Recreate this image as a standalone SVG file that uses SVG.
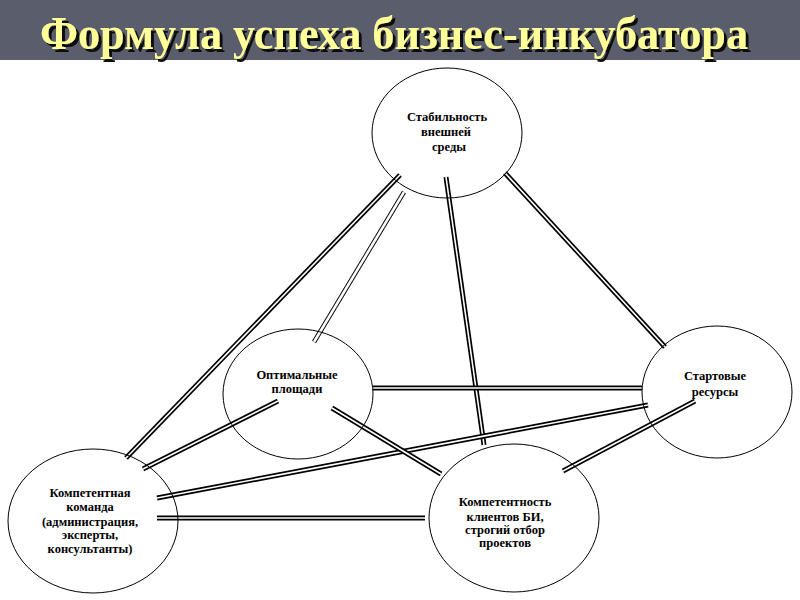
<svg xmlns="http://www.w3.org/2000/svg" xmlns:xlink="http://www.w3.org/1999/xlink" width="800" height="600" viewBox="0 0 800 600">
<style>
.bar{fill:#5a5d6b}
.title{font-family:"Liberation Serif","Times New Roman",serif;font-weight:bold;font-size:47px;fill:#ffff99}
.node ellipse{fill:none;stroke:#000;stroke-width:1}
.node text{font-family:"Liberation Serif","Times New Roman",serif;font-weight:bold;font-size:12.5px;fill:#000;text-anchor:middle}
.o{fill:none;stroke:#000;stroke-width:5}
.i{fill:none;stroke:#fff;stroke-width:1.6}
.o2{fill:none;stroke:#000;stroke-width:4.5}
.i2{fill:none;stroke:#fff;stroke-width:2.6}
</style>
<defs>
<filter id="shadow" x="-5%" y="-20%" width="110%" height="150%">
<feDropShadow dx="3" dy="3" stdDeviation="0.6" flood-color="#111" flood-opacity="1"/>
</filter>
<path id="ca" d="M400,175 L126,458"/>
<path id="cb" d="M404,192 L314,342"/>
<path id="cc" d="M446,177 L484,445"/>
<path id="cd" d="M505,173 L665,347"/>
<path id="ce" d="M373,388 L642,388"/>
<path id="cf" d="M157,498 L648,405"/>
<path id="cg" d="M278,401 L143,469"/>
<path id="ch" d="M332,408 L441,474"/>
<path id="ci" d="M157,518 L425,518"/>
<path id="cj" d="M563,471 L695,401"/>
</defs>
<rect class="bar" x="0" y="0" width="800" height="60"/>
<text class="title" x="40" y="49" textLength="708" lengthAdjust="spacingAndGlyphs" filter="url(#shadow)">Формула успеха бизнес-инкубатора</text>
<g id="connectors">
<use xlink:href="#ca" class="o"/><use xlink:href="#ca" class="i"/>
<use xlink:href="#cb" class="o2"/><use xlink:href="#cb" class="i2"/>
<use xlink:href="#cc" class="o"/><use xlink:href="#cc" class="i"/>
<use xlink:href="#cd" class="o"/><use xlink:href="#cd" class="i"/>
<use xlink:href="#ce" class="o"/><use xlink:href="#ce" class="i"/>
<use xlink:href="#cf" class="o"/><use xlink:href="#cf" class="i"/>
<use xlink:href="#cg" class="o"/><use xlink:href="#cg" class="i"/>
<use xlink:href="#ch" class="o"/><use xlink:href="#ch" class="i"/>
<use xlink:href="#ci" class="o"/><use xlink:href="#ci" class="i"/>
<use xlink:href="#cj" class="o"/><use xlink:href="#cj" class="i"/>
</g>
<g id="node-stability" class="node">
<ellipse cx="447" cy="133" rx="75" ry="65"/>
<text x="447" y="121">Стабильность</text>
<text x="446" y="136">внешней</text>
<text x="449" y="151">среды</text>
</g>
<g id="node-space" class="node">
<ellipse cx="298" cy="394" rx="75" ry="65"/>
<text x="297" y="379">Оптимальные</text>
<text x="297" y="393">площади</text>
</g>
<g id="node-resources" class="node">
<ellipse cx="717" cy="392" rx="75" ry="66"/>
<text x="715" y="380">Стартовые</text>
<text x="715" y="396">ресурсы</text>
</g>
<g id="node-team" class="node">
<ellipse cx="93" cy="521" rx="85" ry="72"/>
<text x="90" y="497">Компетентная</text>
<text x="90" y="511">команда</text>
<text x="90" y="526">(администрация,</text>
<text x="90" y="539">эксперты,</text>
<text x="90" y="553">консультанты)</text>
</g>
<g id="node-clients" class="node">
<ellipse cx="514" cy="518" rx="85" ry="74"/>
<text x="505" y="506">Компетентность</text>
<text x="505" y="521">клиентов БИ,</text>
<text x="505" y="534">строгий отбор</text>
<text x="505" y="547">проектов</text>
</g>
</svg>
